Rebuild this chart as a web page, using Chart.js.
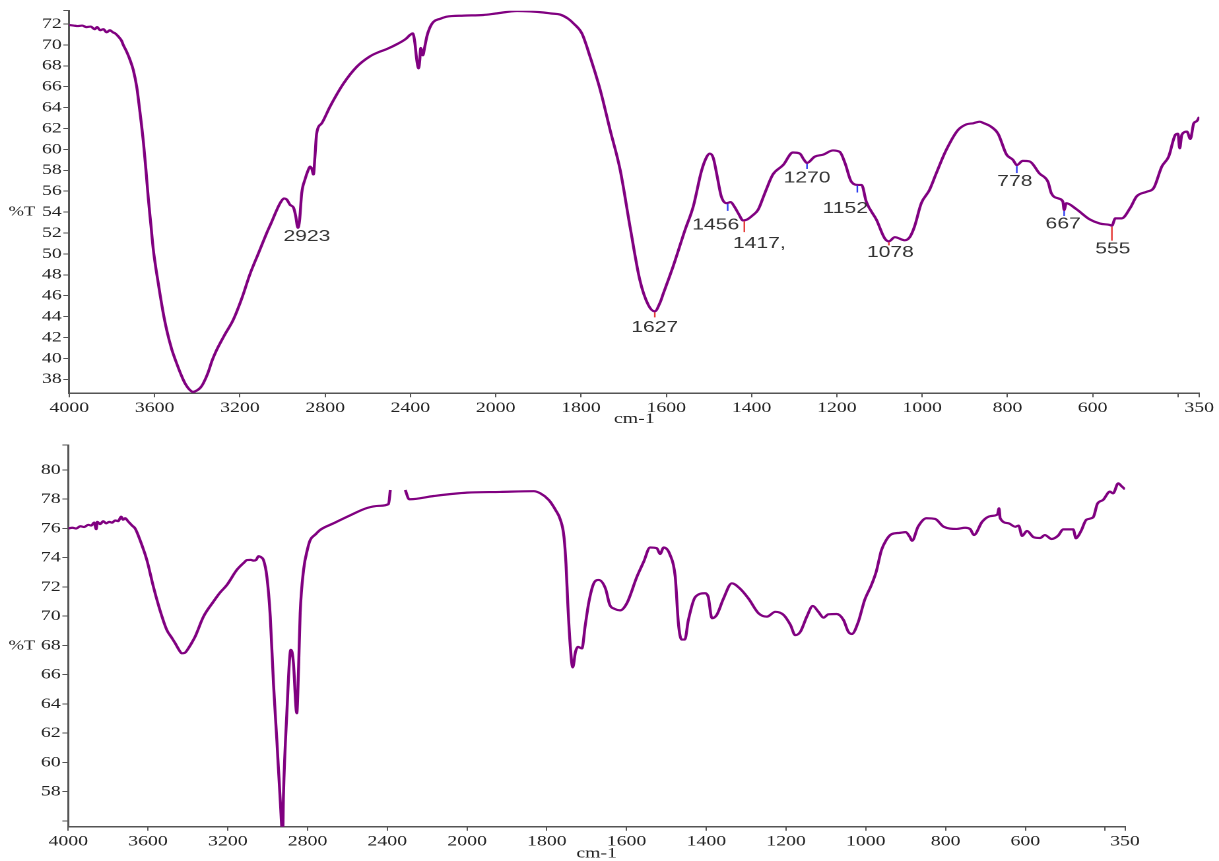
<!DOCTYPE html>
<html>
<head>
<meta charset="utf-8">
<title>FTIR spectra</title>
<script src="https://cdn.jsdelivr.net/npm/chart.js@4.4.1/dist/chart.umd.min.js"></script>
<style>
    body { margin: 0; background: #fff; }
    /* the original picture is stretched sideways, so the panels are too */
    .panel { position: absolute; left: 0; transform: scaleX(1.32); transform-origin: 0 0; }
</style>
</head>
<body>
<div class="panel" style="top:0"><canvas id="chart-top" width="924" height="430"></canvas></div>
<div class="panel" style="top:430px"><canvas id="chart-bottom" width="924" height="431"></canvas></div>
<script>
// wavenumbers (cm-1) and %T of the upper spectrum
const wnTop = [4000,3980,3960,3940,3920,3900,3880,3870,3855,3840,3825,3810,3795,3785,3770,3755,3747,3730,3715,3700,3684,3670,3652,3640,3629,3617,3606,3590,3575,3560,3543,3520,3496,3475,3457,3440,3420,3400,3385,3372,3350,3330,3309,3270,3231,3190,3152,3110,3074,3050,3027,3010,2993,2980,2965,2948,2938,2928,2920,2910,2895,2880,2871,2862,2855,2848,2840,2816,2777,2714,2652,2590,2550,2511,2460,2420,2402,2389,2380,2370,2362,2356,2352,2348,2342,2333,2323,2310,2292,2260,2230,2150,2058,2000,1950,1920,1888,1870,1849,1830,1818,1798,1779,1755,1732,1708,1685,1662,1642,1627,1615,1607,1584,1556,1537,1517,1505,1498,1490,1482,1471,1459,1449,1440,1430,1420,1410,1397,1385,1369,1350,1326,1303,1287,1277,1270,1252,1232,1209,1193,1181,1166,1150,1142,1131,1107,1088,1078,1064,1041,1029,1018,1002,983,967,944,916,896,880,865,855,841,822,802,787,778,764,748,725,705,697,680,670,667,662,639,607,583,560,555,547,532,512,497,473,457,438,422,406,400,396,391,379,371,363,356,350];
const tTop = [71.9,71.85,71.8,71.85,71.7,71.75,71.5,71.7,71.4,71.5,71.2,71.4,71.2,71.1,70.8,70.4,70.0,69.3,68.55,67.6,66.0,63.8,60.6,57.9,55.2,52.7,50.4,48.1,46.2,44.4,42.7,40.9,39.5,38.4,37.6,37.1,36.8,36.95,37.2,37.6,38.6,39.8,40.8,42.3,43.7,45.8,48.1,50.2,52.0,53.1,54.2,54.9,55.3,55.2,54.7,54.4,53.6,52.5,53.2,55.8,57.1,58.0,58.35,58.1,57.6,59.3,61.5,62.5,64.1,66.3,67.9,68.9,69.3,69.6,70.1,70.6,70.95,71.1,70.3,68.5,67.75,68.6,69.7,69.5,69.0,69.8,70.8,71.6,72.2,72.5,72.7,72.8,72.86,73.0,73.24,73.2,73.1,73.0,72.9,72.5,72.07,71.1,68.9,65.7,61.9,58.0,52.6,47.5,45.1,44.5,45.3,46.2,48.8,52.3,54.5,58.0,59.3,59.6,59.2,57.7,55.5,54.85,54.95,54.5,53.8,53.2,53.3,53.7,54.2,55.8,57.6,58.5,59.7,59.6,59.0,58.7,59.3,59.5,59.9,59.75,58.7,56.9,56.6,56.6,55.0,53.25,51.5,51.2,51.6,51.3,51.6,52.6,54.85,56.1,57.7,59.9,61.85,62.4,62.5,62.65,62.5,62.24,61.5,59.5,59.0,58.5,58.9,58.85,57.7,56.9,55.8,55.3,55.0,54.2,54.85,54.3,53.3,52.9,52.77,52.7,53.4,53.4,54.4,55.5,55.95,56.3,58.35,59.3,61.4,61.5,60.1,61.4,61.7,61.0,62.5,62.7,63.1];

// wavenumbers (cm-1) and %T of the lower spectrum (null = break in the trace)
const wnBottom = [4000,3980,3960,3940,3920,3900,3885,3870,3860,3855,3840,3825,3810,3795,3780,3765,3750,3735,3725,3715,3699,3680,3665,3640,3606,3573,3540,3506,3480,3464,3445,3431,3415,3398,3380,3364,3322,3272,3240,3205,3155,3120,3104,3085,3071,3058,3046,3030,3021,3004,2987,2971,2954,2937,2925,2921,2904,2884,2877,2871,2854,2845,2837,2820,2800,2787,2760,2737,2670,2586,2502,2440,2394,2385,2350,2310,2290,2285,2167,2000,1917,1833,1816,1795,1778,1766,1757,1752,1747,1741,1735,1728,1722,1712,1704,1695,1683,1670,1653,1642,1630,1616,1599,1574,1557,1541,1524,1516,1507,1491,1478,1470,1462,1454,1445,1428,1403,1395,1386,1374,1357,1336,1316,1294,1269,1248,1227,1206,1189,1177,1164,1148,1133,1119,1106,1094,1073,1056,1044,1035,1019,1003,986,974,961,949,936,915,900,890,884,869,848,826,805,772,751,738,729,708,687,670,666,663,642,625,617,608,596,579,563,551,534,518,505,480,473,467,459,447,430,419,405,388,380,367,359,350];
const tBottom = [76.0,76.05,76.0,76.15,76.1,76.25,76.2,76.4,75.95,76.45,76.3,76.5,76.35,76.45,76.4,76.55,76.5,76.8,76.6,76.7,76.47,76.2,76.0,75.2,73.84,72.0,70.4,69.06,68.5,68.15,67.7,67.46,67.5,67.8,68.2,68.6,69.97,71.0,71.6,72.13,73.16,73.65,73.84,73.85,73.8,73.85,74.1,74.0,73.84,72.7,69.97,65.4,61.5,57.4,55.0,57.7,63.36,67.7,67.5,66.8,63.36,66.5,70.2,73.16,74.6,75.2,75.6,75.9,76.35,76.9,77.4,77.55,77.67,78.63,null,78.63,78.0,78.0,78.22,78.45,78.5,78.55,78.4,77.95,77.26,76.6,75.44,73.6,70.65,67.9,66.5,67.57,67.9,67.8,69.3,70.9,72.2,72.48,71.9,70.77,70.5,70.4,70.9,72.7,73.73,74.7,74.65,74.25,74.7,74.2,72.7,69.5,68.4,68.4,69.74,71.3,71.57,71.3,69.86,70.08,71.2,72.25,71.9,71.2,70.2,69.97,70.3,70.08,69.4,68.7,68.94,69.97,70.7,70.3,69.9,70.13,70.15,69.74,68.94,68.78,69.6,71.1,72.13,73.04,74.5,75.2,75.6,75.7,75.75,75.44,75.16,76.12,76.7,76.65,76.12,75.97,76.05,75.95,75.55,76.47,76.85,76.95,77.38,76.7,76.35,76.12,76.2,75.49,75.83,75.4,75.35,75.55,75.28,75.5,75.94,75.94,75.33,75.5,75.9,76.6,76.76,77.7,77.95,78.52,78.4,79.09,78.9,78.68];

// x axis ticks (the 400 tick has no label)
const xTickWn = [4000,3600,3200,2800,2400,2000,1800,1600,1400,1200,1000,800,600,400,350];
const xTickLabels = ['4000','3600','3200','2800','2400','2000','1800','1600','1400','1200','1000','800','600','','350'];

// y axis ticks
const yTicksTop = [38,40,42,44,46,48,50,52,54,56,58,60,62,64,66,68,70,72];
const yTicksBottom = [56,58,60,62,64,66,68,70,72,74,76,78,80];
const yLabelsBottom = ['','58','60','62','64','66','68','70','72','74','76','78','80'];

// marked peaks of the upper spectrum
const peakWn = [2923,1627,1456,1417,1270,1152,1078,778,667,555];
const peakLabels = ['2923','1627','1456','1417,','1270','1152','1078','778','667','555'];
const peakColors = ['','#e53935','#2b3cf0','#e53935','#2b3cf0','#2b3cf0','#e53935','#2b3cf0','#2b3cf0','#e53935'];
// [label shift x, mark length, gap to label] in page px
const peakLayout = [[8,0,12],[0,6,9],[-12,8,13],[15,12,10],[0,6,8],[-12,8,15],[1.5,4,6],[-2,8,7],[-1,6,7],[1,15,7]];

const SX = 1.32;
const serif = '"Liberation Serif", "Times New Roman", serif';
const sans = '"Liberation Sans", Arial, sans-serif';
const ink = '#222';
const axisColor = '#555';

// 4000-2000 is drawn at half the scale of 2000-350
function xPos (wn) {
    return wn >= 2000 ? (4000 - wn) / 2 : 1000 + (2000 - wn);
}

function toPoints (wn, t) {
    return wn.map((w, i) => ({ x: xPos(w), y: t[i] }));
}

function curveAt (wn, t, w) {
    for (let i = 1; i < wn.length; i++) {
        if (wn[i] <= w) {
            let f = (wn[i - 1] - w) / (wn[i - 1] - wn[i]);
            return t[i - 1] + (t[i] - t[i - 1]) * f;
        }
    }
    return t[t.length - 1];
}

// draws the %T label and the peak marks
const peakPlugin = {
    id: 'peaks',
    afterDatasetsDraw (chart, args, opts) {
        const ctx = chart.ctx;
        const xs = chart.scales.x;
        const ys = chart.scales.y;
        ctx.save();
        ctx.font = '14px ' + serif;
        ctx.fillStyle = ink;
        ctx.textAlign = 'left';
        ctx.textBaseline = 'alphabetic';
        ctx.fillText('%T', opts.unitX, opts.unitY + 4.6);

        if (opts.marks) {
            ctx.font = '16px ' + sans;
            ctx.textAlign = 'center';
            peakWn.forEach((w, i) => {
                let x = xs.getPixelForValue(xPos(w));
                let y = ys.getPixelForValue(curveAt(wnTop, tTop, w));
                let [dx, len, gap] = peakLayout[i];
                if (len > 0) {
                    ctx.strokeStyle = peakColors[i];
                    ctx.lineWidth = 1.2;
                    ctx.beginPath();
                    ctx.moveTo(x, y + 1);
                    ctx.lineTo(x, y + len);
                    ctx.stroke();
                }
                ctx.fillStyle = '#333';
                ctx.fillText(peakLabels[i], x + dx / SX, y + len + gap + 5.7);
            });
        }
        ctx.restore();
    }
};

function makeChart (id, wn, t, cfg) {
    return new Chart(document.getElementById(id).getContext('2d'), {
        type: 'line',
        data: {
            datasets: [{
                data: toPoints(wn, t),
                borderColor: '#800080',
                borderWidth: 2.2,
                pointRadius: 0,
                cubicInterpolationMode: 'monotone',
                spanGaps: false,
                clip: 0
            }]
        },
        options: {
            responsive: false,
            animation: false,
            devicePixelRatio: 2,
            layout: { padding: { left: 0, top: cfg.top, right: cfg.right, bottom: 0 } },
            plugins: {
                legend: { display: false },
                tooltip: { enabled: false },
                peaks: { marks: cfg.marks, unitX: 6.5, unitY: cfg.unitY }
            },
            scales: {
                x: {
                    type: 'linear',
                    min: 0,
                    max: xPos(350),
                    afterBuildTicks: s => { s.ticks = xTickWn.map(w => ({ value: xPos(w) })); },
                    afterFit: s => { s.height = cfg.xHeight; },
                    ticks: {
                        autoSkip: false, maxRotation: 0, padding: 2,
                        color: ink, font: { family: serif, size: 15 },
                        callback: (v, i) => xTickLabels[i]
                    },
                    grid: { drawOnChartArea: false, drawTicks: true, tickLength: 4, color: axisColor },
                    border: { display: true, color: axisColor, width: 1.5 },
                    title: {
                        display: true, text: 'cm-1', color: ink,
                        font: { family: serif, size: 15, lineHeight: 1 },
                        padding: { top: 0, bottom: cfg.titlePad }
                    }
                },
                y: {
                    type: 'linear',
                    min: cfg.yMin,
                    max: cfg.yMax,
                    afterBuildTicks: s => { s.ticks = cfg.yTicks.map(v => ({ value: v })).concat([{ value: cfg.yMax }]); },
                    afterFit: s => { s.width = cfg.yWidth; },
                    ticks: {
                        padding: 1.3, color: ink, font: { family: serif, size: 15 },
                        callback: (v, i) => cfg.yLabels[i] === undefined ? '' : cfg.yLabels[i]
                    },
                    grid: { drawOnChartArea: false, drawTicks: true, tickLength: 4.5, color: axisColor },
                    border: { display: true, color: axisColor, width: 1.5 }
                }
            }
        },
        plugins: [peakPlugin]
    });
}

let topChart = makeChart('chart-top', wnTop, tTop, {
    top: 10.7, right: 924 - 1199.3 / SX, xHeight: 36.7, yWidth: 69.3 / SX,
    yMin: 36.66, yMax: 73.27, yTicks: yTicksTop, yLabels: yTicksTop.map(String),
    titlePad: 3.5, marks: true, unitY: 211
});

let bottomChart = makeChart('chart-bottom', wnBottom, tBottom, {
    top: 15, right: 924 - 1125 / SX, xHeight: 34.3, yWidth: 68.3 / SX,
    yMin: 55.6, yMax: 81.71, yTicks: yTicksBottom, yLabels: yLabelsBottom,
    titlePad: 0, marks: false, unitY: 215
});
</script>
</body>
</html>
